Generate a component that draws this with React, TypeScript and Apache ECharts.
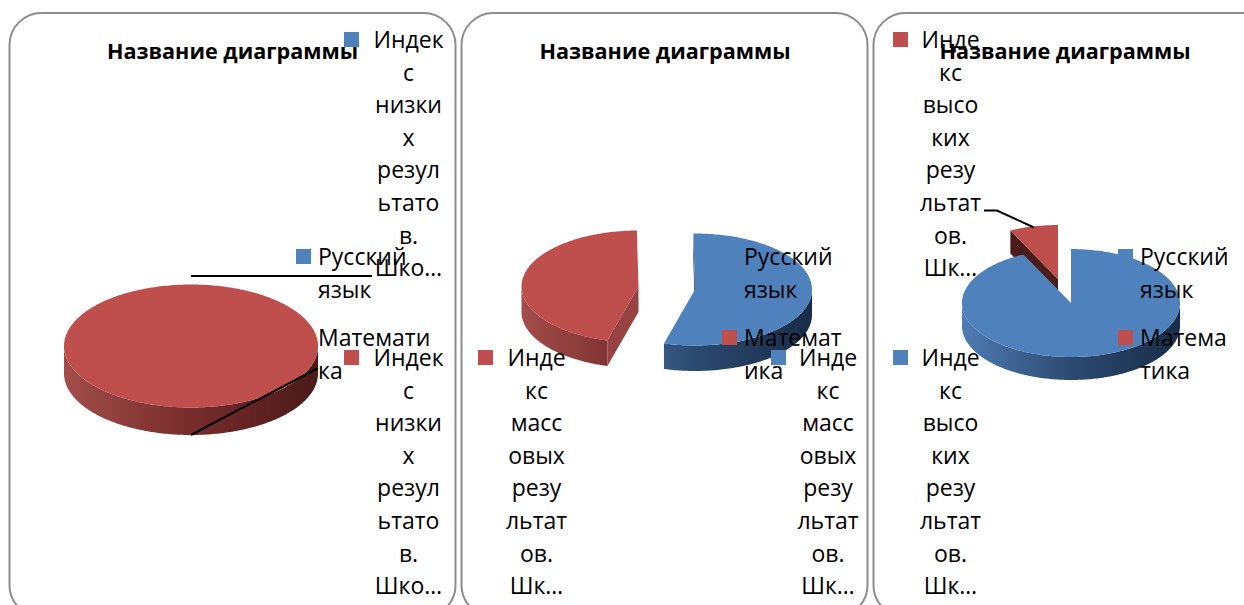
import React, { useEffect, useRef } from "react";
import * as echarts from "echarts";

const titleText = "Название диаграммы";
const categories = ["Русский язык", "Математика"];
const russianValues = [0, 54.5, 92.8];
const mathValues = [100, 45.5, 7.2];

const lowLegend = ["Индек", "с", "низки", "х", "резул", "ьтато", "в.", "Шко…"];
const massLegend = ["Инде", "кс", "масс", "овых", "резу", "льтат", "ов.", "Шк…"];
const highLegend = ["Инде", "кс", "высо", "ких", "резу", "льтат", "ов.", "Шк…"];
const russianLines = [["Русский", "язык"], ["Русский", "язык"], ["Русский", "язык"]];
const mathLines = [["Математи", "ка"], ["Математ", "ика"], ["Матема", "тика"]];

const BLUE = "#4F81BD";
const RED = "#BE4F4C";
const FONT = '"Open Sans", sans-serif';
const LINE = 32.6;

// one entry per chart: [russian slice, math slice]
const pies = [
  { rotation: 0, rx: 127, ry: 61.5, depth: 27.5, centers: [[191, 346], [191, 346]], faces: ["#17304f", "#964341"] },
  { rotation: -0.8, rx: 117, ry: 56, depth: 25.5, centers: [[695, 289.5], [638.5, 286.5]], faces: ["#17304f", "#964341"] },
  { rotation: 0, rx: 109, ry: 54, depth: 23, centers: [[1071, 303], [1058, 279]], faces: ["#17304f", "#4b1c1a"] },
];

const wallStops = [
  [
    { offset: 0, color: "#4f7cb4" },
    { offset: 0.5, color: "#2c4a70" },
    { offset: 1, color: "#182c48" },
  ],
  [
    { offset: 0, color: "#a24d4a" },
    { offset: 0.5, color: "#772c2a" },
    { offset: 1, color: "#4a1a19" },
  ],
];

const rad = (d: number) => (d * Math.PI) / 180;

function renderSlice(sliceIndex: number) {
  return (_params: any, api: any) => {
    const chart = api.value(0);
    const value = api.value(1);
    if (!value) return { type: "group", children: [] };
    const p = pies[chart];
    const total = russianValues[chart] + mathValues[chart];
    const before = sliceIndex === 0 ? 0 : russianValues[chart];
    const a = p.rotation + (360 * before) / total;
    const b = a + (360 * value) / total;
    const [cx, cy] = p.centers[sliceIndex];
    const at = (t: number, dy = 0) => [cx + p.rx * Math.sin(rad(t)), cy - p.ry * Math.cos(rad(t)) + dy];
    const children: any[] = [];

    // cut face of the slice's first edge, when it faces the viewer
    if (Math.cos(rad(a - 90)) < 0 && value < total) {
      const e = at(a);
      children.push({
        type: "polygon",
        shape: { points: [[cx, cy], e, [e[0], e[1] + p.depth], [cx, cy + p.depth]] },
        style: { fill: p.faces[sliceIndex] },
      });
    }

    // outer wall: the front half of the rim
    const from = Math.max(a, 90);
    const to = Math.min(b, 270);
    if (to > from) {
      const upper: number[][] = [];
      const lower: number[][] = [];
      for (let t = from; t < to; t += 1) {
        upper.push(at(t));
        lower.unshift(at(t, p.depth));
      }
      upper.push(at(to));
      lower.unshift(at(to, p.depth));
      children.push({
        type: "polygon",
        shape: { points: upper.concat(lower) },
        style: {
          fill: new echarts.graphic.LinearGradient(cx - p.rx, 0, cx + p.rx, 0, wallStops[sliceIndex], true),
        },
      });
    }

    // top face
    const top: number[][] = value < total ? [[cx, cy]] : [];
    for (let t = a; t < b; t += 1) top.push(at(t));
    top.push(at(b));
    children.push({
      type: "polygon",
      shape: { points: top },
      style: { fill: sliceIndex === 0 ? BLUE : RED },
    });
    return { type: "group", children };
  };
}

const panel = (x: number, width: number) => ({
  type: "rect",
  z: 0,
  shape: { x, y: 13, width, height: 604, r: 32 },
  style: { fill: "#fff", stroke: "#8c8c8c", lineWidth: 2 },
});

const marker = (x: number, y: number, fill: string) => ({
  type: "rect",
  z: 10,
  shape: { x, y, width: 15, height: 15 },
  style: { fill },
});

const label = (x: number, firstCenter: number, lines: string[], align: "left" | "center") => ({
  type: "text",
  z: 11,
  x,
  y: firstCenter - 1 - LINE / 2,
  style: {
    text: lines.join("\n"),
    font: `23px ${FONT}`,
    fill: "#000",
    textAlign: align,
    textVerticalAlign: "top",
    lineHeight: LINE,
  },
});

const leader = (points: number[][]) => ({
  type: "polyline",
  z: 9,
  shape: { points },
  style: { stroke: "#000", lineWidth: 2, fill: "none" },
});

const graphicElements = [
  panel(9.5, 446),
  panel(461.5, 406),
  panel(873.5, 400),
  leader([[191, 276], [372, 276]]),
  leader([[191, 435], [318, 368]]),
  leader([[984, 210.5], [997, 210.5], [1034, 227.5]]),
  marker(344, 32, BLUE),
  label(408.5, 40, lowLegend, "center"),
  marker(296, 249, BLUE),
  label(318, 257, russianLines[0], "left"),
  marker(296, 330, RED),
  label(318, 338, mathLines[0], "left"),
  marker(344, 350, RED),
  label(408.5, 358, lowLegend, "center"),
  marker(478, 350, RED),
  label(536.5, 358, massLegend, "center"),
  marker(722, 249, BLUE),
  label(744, 257, russianLines[1], "left"),
  marker(722, 330, RED),
  label(744, 338, mathLines[1], "left"),
  marker(771, 350, BLUE),
  label(828, 358, massLegend, "center"),
  marker(893, 32, RED),
  label(950.5, 40, highLegend, "center"),
  marker(893, 350, BLUE),
  label(950.5, 358, highLegend, "center"),
  marker(1118, 249, BLUE),
  label(1140, 257, russianLines[2], "left"),
  marker(1118, 330, RED),
  label(1140, 338, mathLines[2], "left"),
];

const titleCenters = [232.5, 665, 1065];

export default function App() {
  const ref = useRef<HTMLDivElement>(null);
  useEffect(() => {
    const chart = echarts.init(ref.current!, undefined, { renderer: "svg" });
    chart.setOption({
      animation: false,
      backgroundColor: "#fff",
      title: titleCenters.map((left) => ({
        text: titleText,
        left,
        top: 39,
        textAlign: "center",
        z: 8,
        padding: 0,
        textStyle: { fontFamily: FONT, fontWeight: "bold", fontSize: 21.6, color: "#000" },
      })),
      graphic: graphicElements,
      series: [
        {
          type: "custom",
          name: categories[1],
          coordinateSystem: "none",
          z: 3,
          silent: true,
          renderItem: renderSlice(1),
          data: mathValues.map((v, i) => [i, v]),
        },
        {
          type: "custom",
          name: categories[0],
          coordinateSystem: "none",
          z: 4,
          silent: true,
          renderItem: renderSlice(0),
          data: russianValues.map((v, i) => [i, v]),
        },
      ],
    });
    return () => chart.dispose();
  }, []);
  return <div ref={ref} style={{ position: "fixed", left: 0, top: 0, width: 1244, height: 605 }} />;
}
